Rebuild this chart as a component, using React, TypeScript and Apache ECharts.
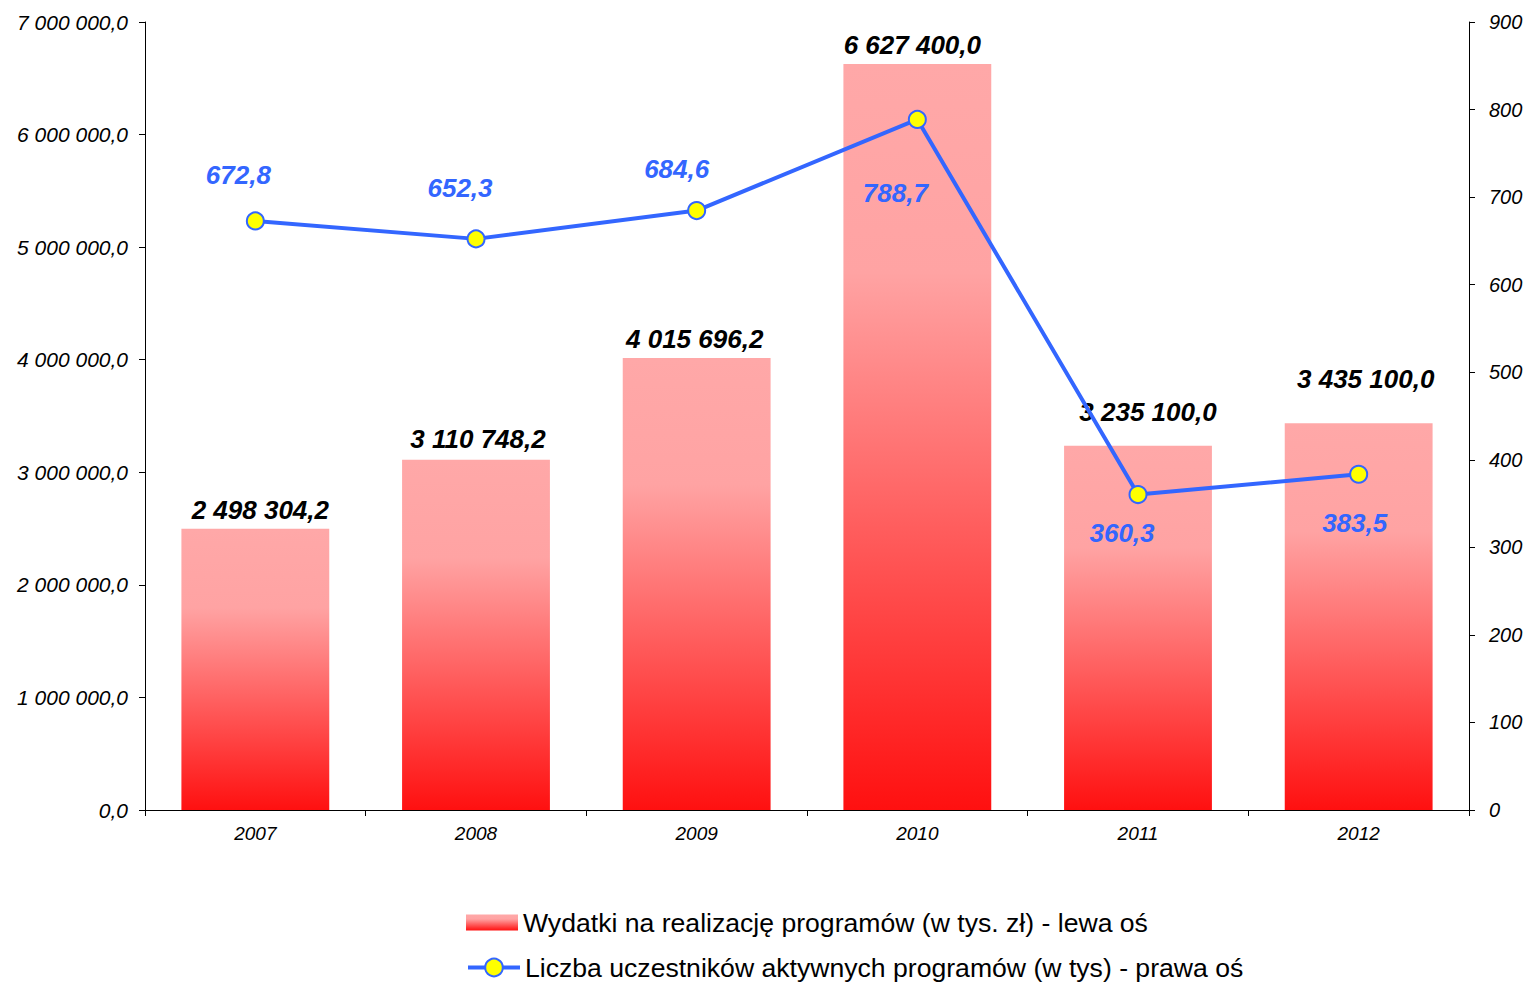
import React, { useEffect, useRef } from "react";
import * as echarts from "echarts";

const categories = ["2007", "2008", "2009", "2010", "2011", "2012"];
const expenses = [2498304.2, 3110748.2, 4015696.2, 6627400.0, 3235100.0, 3435100.0];
const participants = [672.8, 652.3, 684.6, 788.7, 360.3, 383.5];
const leftTicks = [0, 1000000, 2000000, 3000000, 4000000, 5000000, 6000000, 7000000];
const rightTicks = [0, 100, 200, 300, 400, 500, 600, 700, 800, 900];
const barName = "Wydatki na realizację programów (w tys. zł) - lewa oś";
const lineName = "Liczba uczestników aktywnych programów (w tys) - prawa oś";

const barLabelOffsets = [[5, -1], [2, -3], [-2, -1], [-5, -1], [10, -16], [7, -26]];
const lineLabelOffsets = [[-17, -46], [-16, -51], [-20, -42], [-22, 74], [-16, 38], [-4, 49]];

const FONT = "'Liberation Sans', Arial, sans-serif";

function fmt(v: number, decimals: number): string {
  const s = v.toFixed(decimals);
  const [intPart, dec] = s.split(".");
  const grouped = intPart.replace(/\B(?=(\d{3})+(?!\d))/g, " ");
  return dec !== undefined ? grouped + "," + dec : grouped;
}

export default function App() {
  const ref = useRef<HTMLDivElement>(null);
  useEffect(() => {
    if (!ref.current) return;
    const chart = echarts.init(ref.current, undefined, { renderer: "svg" });
    const barGradient = new echarts.graphic.LinearGradient(0, 0, 0, 1, [
      { offset: 0, color: "#FFA8A8" },
      { offset: 0.28, color: "#FFA3A3" },
      { offset: 1, color: "#FF1010" },
    ]);
    const legendBase = {
      orient: "horizontal",
      left: 466,
      itemWidth: 52,
      padding: 0,
      textStyle: { fontFamily: FONT, fontSize: 26.6, color: "#000" },
    };
    chart.setOption({
      animation: false,
      backgroundColor: "#ffffff",
      grid: { left: 145, right: 62, top: 22, bottom: 174, containLabel: false },
      legend: [
        {
          ...legendBase,
          top: 909,
          itemHeight: 16,
          data: [{ name: barName, icon: "rect" }],
        },
        {
          ...legendBase,
          top: 954,
          itemHeight: 22,
          lineStyle: { width: 4 },
          data: [{ name: lineName }],
        },
      ],
      xAxis: {
        type: "category",
        data: categories,
        boundaryGap: true,
        axisLine: { lineStyle: { color: "#000", width: 1 } },
        axisTick: { show: true, length: 6, lineStyle: { color: "#000" } },
        axisLabel: {
          fontFamily: FONT,
          fontSize: 19,
          fontStyle: "italic",
          color: "#000",
          margin: 14,
        },
      },
      yAxis: [
        {
          type: "value",
          min: leftTicks[0],
          max: leftTicks[leftTicks.length - 1],
          interval: 1000000,
          position: "left",
          splitLine: { show: false },
          axisLine: { show: true, lineStyle: { color: "#000", width: 1 } },
          axisTick: { show: true, length: 6, lineStyle: { color: "#000" } },
          axisLabel: {
            fontFamily: FONT,
            fontSize: 21,
            fontStyle: "italic",
            color: "#000",
            margin: 17,
            formatter: (v: number) => fmt(v, 1),
          },
        },
        {
          type: "value",
          min: rightTicks[0],
          max: rightTicks[rightTicks.length - 1],
          interval: 100,
          position: "right",
          splitLine: { show: false },
          axisLine: { show: true, lineStyle: { color: "#000", width: 1 } },
          axisTick: { show: true, length: 6, lineStyle: { color: "#000" } },
          axisLabel: {
            fontFamily: FONT,
            fontSize: 20,
            fontStyle: "italic",
            color: "#000",
            margin: 20,
            formatter: (v: number) => fmt(v, 0),
          },
        },
      ],
      series: [
        {
          name: barName,
          type: "bar",
          yAxisIndex: 0,
          barWidth: "67%",
          itemStyle: { color: barGradient },
          data: expenses.map((v, i) => ({
            value: v,
            label: { offset: barLabelOffsets[i] },
          })),
          label: {
            show: true,
            position: "top",
            distance: 5,
            fontFamily: FONT,
            fontSize: 26,
            fontWeight: "bold",
            fontStyle: "italic",
            color: "#000",
            formatter: (p: any) => fmt(p.value, 1),
          },
          z: 2,
        },
        {
          name: lineName,
          type: "line",
          yAxisIndex: 1,
          symbol: "circle",
          symbolSize: 17,
          lineStyle: { color: "#3366FF", width: 4 },
          itemStyle: { color: "#FFFF00", borderColor: "#3366FF", borderWidth: 2 },
          data: participants.map((v, i) => ({
            value: v,
            label: { offset: lineLabelOffsets[i] },
          })),
          label: {
            show: true,
            position: "inside",
            fontFamily: FONT,
            fontSize: 26,
            fontWeight: "bold",
            fontStyle: "italic",
            color: "#3366FF",
            formatter: (p: any) => fmt(p.value, 1),
          },
          z: 3,
        },
      ],
    });
    return () => chart.dispose();
  }, []);
  return (
    <div
      ref={ref}
      style={{ position: "fixed", left: 0, top: 0, width: 1531, height: 984 }}
    />
  );
}
